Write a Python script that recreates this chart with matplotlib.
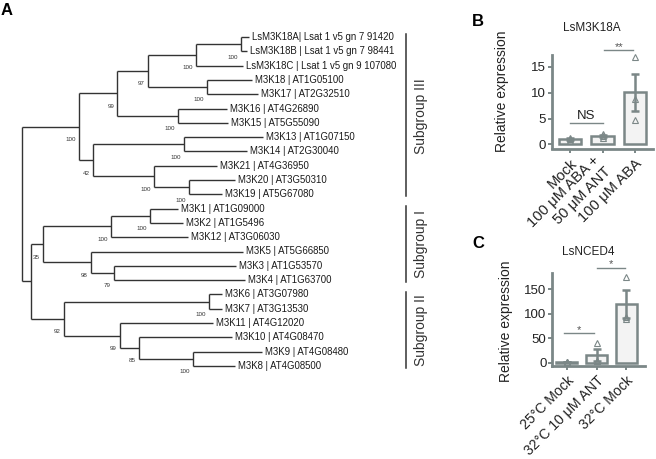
import matplotlib
matplotlib.use("Agg")
import matplotlib.pyplot as plt
import matplotlib.transforms as mtransforms
import numpy as np

plt.rcParams['font.family'] = ['Liberation Sans', 'DejaVu Sans']

W, H = 656, 459

# ---------------- panel A : tree ----------------
leaves = ["LsM3K18A| Lsat 1 v5 gn 7 91420", "LsM3K18B | Lsat 1 v5 gn 7 98441",
          "LsM3K18C | Lsat 1 v5 gn 9 107080", "M3K18 | AT1G05100",
          "M3K17 | AT2G32510", "M3K16 | AT4G26890", "M3K15 | AT5G55090",
          "M3K13 | AT1G07150", "M3K14 | AT2G30040", "M3K21 | AT4G36950",
          "M3K20 | AT3G50310", "M3K19 | AT5G67080", "M3K1 | AT1G09000",
          "M3K2 | AT1G5496", "M3K12 | AT3G06030", "M3K5 | AT5G66850",
          "M3K3 | AT1G53570", "M3K4 | AT1G63700", "M3K6 | AT3G07980",
          "M3K7 | AT3G13530", "M3K11 | AT4G12020", "M3K10 | AT4G08470",
          "M3K9 | AT4G08480", "M3K8 | AT4G08500"]
leaf_depth = [2.27, 2.25, 2.21, 2.30, 2.36, 2.05, 2.06, 2.41, 2.25, 1.95,
              2.13, 2.00, 1.56, 1.61, 1.66, 2.21, 2.14, 2.23, 2.00, 2.00,
              1.91, 2.10, 2.40, 2.13]

# (depth, bootstrap, children); ints are leaf indices
tree = (0.00, None, [
    (0.57, 100, [
        (0.95, 99, [
            (1.26, 97, [
                (1.74, 100, [(2.19, 100, [0, 1]), 2]),
                (1.85, 100, [3, 4]),
            ]),
            (1.56, 100, [5, 6]),
        ]),
        (0.71, 42, [
            (1.62, 100, [7, 8]),
            (1.32, 100, [9, (1.67, 100, [10, 11])]),
        ]),
    ]),
    (0.09, None, [
        (0.21, 35, [
            (0.89, 100, [(1.28, 100, [12, 13]), 14]),
            (0.69, 98, [15, (0.92, 79, [16, 17])]),
        ]),
        (0.42, 92, [
            (1.87, 100, [18, 19]),
            (0.98, 99, [20, (1.17, 85, [21, (1.71, 100, [22, 23])])]),
        ]),
    ]),
])

groups = ["Subgroup III", "Subgroup I", "Subgroup II"]
group_first = [0, 12, 18]
group_last = [11, 17, 23]

# ---------------- panels B, C : qPCR ----------------
b_labels = ["Mock", "100 μM ABA +\n50 μM ANT", "100 μM ABA"]
b_reps = [[0.7, 1.0, 1.3], [1.3, 1.6, 2.1], [16.9, 8.7, 4.7]]
c_labels = ["25°C Mock", "32°C 10 μM ANT", "32°C Mock"]
c_reps = [[0.5, 1.0, 1.5], [41.0, 3.5, 3.5], [175.5, 94.0, 89.0]]

line_c = "#333333"
gray = "#7b8787"

fig = plt.figure(figsize=(W / 100, H / 100), dpi=100)

ax = fig.add_axes([2 / W, 1 - 380.2 / H, 450 / W, (380.2 - 22.7) / H])
ax.set_xlim(-0.2, 4.3)
ax.set_ylim(24, -1)
ax.set_axis_off()


def draw(node):
    if isinstance(node, int):
        ax.text(leaf_depth[node] + 0.03, node, leaves[node], fontsize=6.9,
                va="center", ha="left", color="#1a1a1a")
        return node, leaf_depth[node]
    depth, support, kids = node
    ys = []
    for k in kids:
        y, x = draw(k)
        ax.plot([depth, x], [y, y], color=line_c, lw=1.0,
                solid_capstyle="butt")
        ys.append(y)
    ax.plot([depth, depth], [min(ys), max(ys)], color=line_c, lw=1.0,
            solid_capstyle="butt")
    ymid = (min(ys) + max(ys)) / 2
    if support is not None:
        ax.text(depth - 0.03, ymid + 0.9, str(support), fontsize=4.5,
                ha="right", va="center", color="#333333")
    return ymid, depth


draw(tree)

for name, a, b in zip(groups, group_first, group_last):
    ax.plot([3.84, 3.84], [a - 0.2, b + 0.15], color=line_c, lw=1.1)
    ax.text(3.99, (a + b) / 2, name, rotation=90, fontsize=10,
            ha="center", va="center", color="#333333")

fig.text(1 / W, 1 - 3 / H, "A", fontsize=12, fontweight="bold", va="top")
fig.text(472 / W, 1 - 14 / H, "B", fontsize=12, fontweight="bold", va="top")
fig.text(472 / W, 1 - 236 / H, "C", fontsize=12, fontweight="bold", va="top")


def bar_panel(rect, reps, labels, ylim, xlim, yticks, ylab_y, xfs):
    bx = fig.add_axes(rect)
    x = np.arange(len(reps))
    means = [np.mean(r) for r in reps]
    sems = [np.std(r, ddof=1) / np.sqrt(len(r)) for r in reps]
    bx.bar(x, means, width=0.7, color="#f3f3f3", edgecolor=gray, lw=1.8,
           zorder=2)
    bx.errorbar(x, means, yerr=sems, fmt="none", ecolor=gray, elinewidth=1.8,
                capsize=3, capthick=1.8, zorder=3)
    for i, r in enumerate(reps):
        bx.plot([i] * len(r), r, "^", ms=5, mfc="none", mec=gray, mew=0.8,
                zorder=4, clip_on=False)
    bx.set_ylim(*ylim)
    bx.set_xlim(*xlim)
    bx.set_yticks(yticks)
    bx.set_xticks(x)
    bx.set_xticklabels(labels, rotation=45, ha="right",
                       rotation_mode="anchor", fontsize=xfs, color="#222222")
    bx.tick_params(axis="y", labelsize=9.5, colors=gray, labelcolor="#222222",
                   length=3, width=1.4, pad=1)
    bx.tick_params(axis="x", colors=gray, labelcolor="#222222", length=3,
                   width=1.4, pad=2.5)
    for s in ["top", "right"]:
        bx.spines[s].set_visible(False)
    for s in ["left", "bottom"]:
        bx.spines[s].set_color(gray)
        bx.spines[s].set_linewidth(2)
    bx.set_ylabel("Relative expression", fontsize=10, color="#222222")
    bx.yaxis.set_label_coords(-0.42, ylab_y)
    return bx


axb = bar_panel([551.7 / W, 1 - 148.5 / H, 101.3 / W, 93.5 / H], b_reps,
                b_labels, (-0.8, 17.3), (-0.56, 2.55), [0, 5, 10, 15], 0.615,
                10.6)
axc = bar_panel([552 / W, 1 - 365.6 / H, 93 / W, 92.6 / H], c_reps,
                c_labels, (-6, 183), (-0.5, 2.63), [0, 50, 100, 150], 0.48,
                10.1)

# two-line label sits centred on its tick
mid = axb.get_xticklabels()[1]
mid.set_va("center")
mid.set_transform(mid.get_transform() +
                  mtransforms.ScaledTranslation(0, -0.08, fig.dpi_scale_trans))


def sig(bx, x0, x1, y, label, dy):
    bx.plot([x0, x1], [y, y], color=gray, lw=1, clip_on=False)
    big = label == "NS"
    bx.text((x0 + x1) / 2, y + dy, label, ha="center", va="bottom",
            fontsize=9.5 if big else 8,
            color="#222222" if big else "#555555")


sig(axb, 0.0, 1.0, 4.1, "NS", 0.3)
sig(axb, 1.05, 1.95, 18.3, "**", -0.4)
sig(axc, -0.1, 0.9, 61, "*", -4)
sig(axc, 1.0, 1.95, 194, "*", -4)

fig.text(592 / W, 1 - 28 / H, "LsM3K18A", fontsize=8.5, ha="center",
         va="center", color="#222222")
fig.text(588 / W, 1 - 252 / H, "LsNCED4", fontsize=8.5, ha="center",
         va="center", color="#222222")

fig.savefig("out.png", dpi=100)
